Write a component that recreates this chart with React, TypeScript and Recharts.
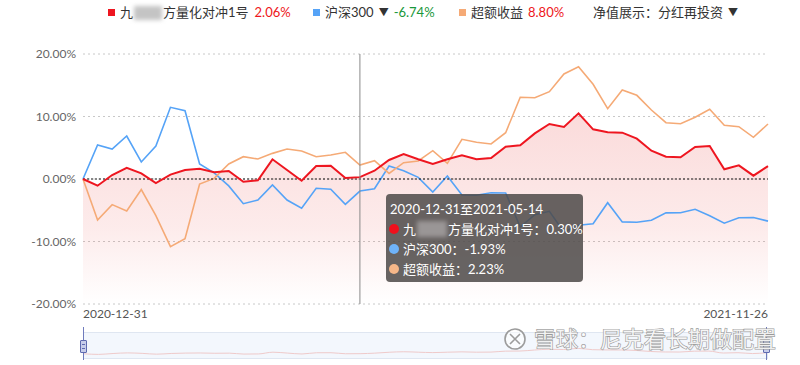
import React from 'react';
import {
  ComposedChart,
  LineChart,
  Line,
  Area,
  XAxis,
  YAxis,
  CartesianGrid,
  Tooltip,
  ReferenceLine,
} from 'recharts';

// ---------- data ----------
const dates = [
  '2020-12-31', '2021-01-08', '2021-01-15', '2021-01-22', '2021-01-29', '2021-02-05',
  '2021-02-10', '2021-02-19', '2021-02-26', '2021-03-05', '2021-03-12', '2021-03-19',
  '2021-03-26', '2021-04-02', '2021-04-09', '2021-04-16', '2021-04-23', '2021-04-30',
  '2021-05-07', '2021-05-14', '2021-05-21', '2021-05-28', '2021-06-04', '2021-06-11',
  '2021-06-18', '2021-06-25', '2021-07-02', '2021-07-09', '2021-07-16', '2021-07-23',
  '2021-07-30', '2021-08-06', '2021-08-13', '2021-08-20', '2021-08-27', '2021-09-03',
  '2021-09-10', '2021-09-17', '2021-09-24', '2021-09-30', '2021-10-08', '2021-10-15',
  '2021-10-22', '2021-10-29', '2021-11-05', '2021-11-12', '2021-11-19', '2021-11-26',
];

const fundReturns = [
  0, -1.07, 0.64, 1.8, 0.9, -0.64, 0.7, 1.44, 1.65, 1.07, 1.28, -0.45,
  -0.2, 3.15, 1.44, -0.27, 2.08, 2.13, 0.16, 0.3, 1.33, 3.04, 4.0, 3.15,
  2.4, 3.15, 3.79, 3.15, 3.36, 5.17, 5.39, 7.3, 8.8, 8.32, 10.5, 7.95,
  7.47, 7.41, 6.45, 4.53, 3.57, 3.47, 5.12, 5.28, 1.55, 2.19, 0.53, 2.06,
];

const hs300Returns = [
  0, 5.44, 4.8, 6.88, 2.72, 5.28, 11.47, 10.93, 2.4, 0.97, -1.1, -3.95,
  -3.36, -0.96, -3.36, -4.69, -1.49, -1.65, -4.05, -1.93, -1.55, 2.08, 1.33, 0.27,
  -2.08, 0.48, -2.56, -2.6, -2.2, -2.24, -7.68, -5.71, -5.17, -8.48, -7.4, -7.15,
  -3.79, -6.86, -6.93, -6.6, -5.42, -5.39, -4.85, -5.87, -7.06, -6.19, -6.16, -6.74,
];

const excessReturns = [
  0, -6.56, -4.1, -5.12, -1.7, -5.87, -10.83, -9.55, -0.8, 0.1, 2.4, 3.57,
  3.2, 4.1, 4.8, 4.48, 3.57, 3.84, 4.27, 2.23, 2.93, 0.9, 2.61, 2.88,
  4.53, 2.5, 6.35, 5.87, 5.6, 7.41, 13.07, 13.01, 13.97, 16.8, 17.97, 15.15,
  11.25, 14.24, 13.39, 11.04, 9.01, 8.85, 9.87, 11.15, 8.59, 8.37, 6.67, 8.8,
];

const yTicks = [-20, -10, 0, 10, 20];
const xTicks = [dates[0], dates[dates.length - 1]];

const FUND_HEAD = '九';
const FUND_TAIL = '方量化对冲1号';
const HS300_NAME = '沪深300';
const EXCESS_NAME = '超额收益';
const DISPLAY_MODE = '净值展示：分红再投资';
const WATERMARK = '雪球：尼克看长期做配置';

const data = dates.map((d, i) => ({
  date: d,
  fund: fundReturns[i],
  hs300: hs300Returns[i],
  excess: excessReturns[i],
}));

// ---------- styles ----------
const FONT = "Lato, 'Noto Sans CJK SC', sans-serif";
const RED = '#ee1620';
const BLUE = '#55a3f7';
const ORANGE = '#f5aa76';
const GREEN = '#19973a';

const fmt = (v: number) => `${v.toFixed(2)}%`;

const Blur = ({ w = 28, h = 14, color = '#b8b8b8' }: { w?: number; h?: number; color?: string }) => (
  <span
    style={{
      display: 'inline-block',
      width: w,
      height: h,
      background: color,
      filter: 'blur(2px)',
      verticalAlign: 'middle',
      margin: '0 1px',
    }}
  />
);

const Square = ({ color }: { color: string }) => (
  <span style={{ display: 'inline-block', width: 7, height: 7, background: color, marginRight: 5 }} />
);

const Arrow = () => (
  <span style={{ fontSize: 10, marginLeft: 5, marginRight: 5, color: '#333' }}>▼</span>
);

const LegendBar = () => {
  const last = dates.length - 1;
  const item: React.CSSProperties = {
    position: 'absolute',
    top: 4,
    display: 'flex',
    alignItems: 'center',
    whiteSpace: 'nowrap',
    lineHeight: '17px',
    height: 17,
  };
  return (
    <div style={{ position: 'absolute', left: 0, top: 0, width: 800, height: 28, font: `13px ${FONT}`, color: '#333' }}>
      <div style={{ ...item, left: 108 }}>
        <Square color={RED} />
        <span>{FUND_HEAD}</span>
        <Blur w={28} color="#c4c4c4" />
        <span>{FUND_TAIL}</span>
        <span style={{ color: RED, marginLeft: 6 }}>{fmt(fundReturns[last])}</span>
      </div>
      <div style={{ ...item, left: 313 }}>
        <Square color={BLUE} />
        <span>{HS300_NAME}</span>
        <Arrow />
        <span style={{ color: GREEN }}>{fmt(hs300Returns[last])}</span>
      </div>
      <div style={{ ...item, left: 459 }}>
        <Square color={ORANGE} />
        <span>{EXCESS_NAME}</span>
        <span style={{ color: RED, marginLeft: 5 }}>{fmt(excessReturns[last])}</span>
      </div>
      <div style={{ ...item, left: 593 }}>
        <span>{DISPLAY_MODE}</span>
        <Arrow />
      </div>
    </div>
  );
};

const XTick = (props: any) => {
  const { x, y, payload } = props;
  const anchor = payload.value === dates[0] ? 'start' : 'end';
  return (
    <text x={x} y={y} dy={14} textAnchor={anchor} fill="#555" fontSize={12} fontFamily={FONT}>
      {payload.value}
    </text>
  );
};

const Dot = ({ color }: { color: string }) => (
  <span
    style={{
      display: 'inline-block',
      width: 10,
      height: 10,
      borderRadius: '50%',
      background: color,
      marginRight: 4,
      verticalAlign: 'middle',
    }}
  />
);

const TooltipBox = (props: any) => {
  const { active, label, payload } = props;
  if (!active) return null;
  let i = dates.indexOf(label);
  if (i < 0 && payload && payload.length) i = dates.indexOf(payload[0].payload.date);
  if (i < 0) return null;
  const row: React.CSSProperties = { height: 20, lineHeight: '20px', display: 'flex', alignItems: 'center', whiteSpace: 'nowrap' };
  return (
    <div
      style={{
        width: 197,
        height: 88,
        boxSizing: 'border-box',
        background: 'rgba(78,74,73,0.86)',
        borderRadius: 4,
        color: '#fff',
        font: `13px ${FONT}`,
        padding: '5px 0 0 3px',
      }}
    >
      <div style={{ ...row, paddingLeft: 1 }}>{`${dates[0]}至${dates[i]}`}</div>
      <div style={row}>
        <Dot color="#f0101c" />
        <span>{FUND_HEAD}</span>
        <Blur w={30} h={16} color="#9a9696" />
        <span>{`${FUND_TAIL}：${fmt(fundReturns[i])}`}</span>
      </div>
      <div style={row}>
        <Dot color="#6fb3fa" />
        <span>{`${HS300_NAME}：${fmt(hs300Returns[i])}`}</span>
      </div>
      <div style={row}>
        <Dot color="#f6b789" />
        <span>{`${EXCESS_NAME}：${fmt(excessReturns[i])}`}</span>
      </div>
    </div>
  );
};

const Handle = ({ left }: { left: number }) => (
  <>
    <div style={{ position: 'absolute', left: left, top: 327, width: 1, height: 33, background: '#6f7bbd' }} />
    <div
      style={{
        position: 'absolute',
        left: left - 3,
        top: 340,
        width: 5,
        height: 11,
        border: '1px solid #5f6bb0',
        background: '#c7cdea',
        borderRadius: 1,
      }}
    >
      <div style={{ position: 'absolute', left: 1, top: 3, width: 3, height: 1, background: '#5f6bb0' }} />
      <div style={{ position: 'absolute', left: 1, top: 7, width: 3, height: 1, background: '#5f6bb0' }} />
    </div>
  </>
);

export default function App() {
  return (
    <div style={{ position: 'absolute', left: 0, top: 0, width: 800, height: 365, background: '#fff', overflow: 'hidden' }}>
      <LegendBar />
      <div style={{ position: 'absolute', left: 0, top: 0 }}>
        <ComposedChart width={800} height={365} data={data} margin={{ top: 54, right: 32, bottom: 41, left: 0 }}>
          <defs>
            <linearGradient id="fundFill" x1="0" y1="0" x2="0" y2="1">
              <stop offset="0%" stopColor="#ea4a48" stopOpacity={0.2} />
              <stop offset="60%" stopColor="#ea4a48" stopOpacity={0.11} />
              <stop offset="100%" stopColor="#ea4a48" stopOpacity={0.0} />
            </linearGradient>
          </defs>
          <CartesianGrid vertical={false} stroke="#c8c8c8" strokeDasharray="2 3" />
          <XAxis
            dataKey="date"
            type="category"
            scale="point"
            ticks={xTicks}
            interval={0}
            tick={<XTick />}
            tickLine={false}
            axisLine={false}
            tickSize={0}
            tickMargin={0}
            height={20}
          />
          <YAxis
            type="number"
            domain={[-20, 20]}
            ticks={yTicks}
            tickFormatter={(v: number) => fmt(v)}
            axisLine={false}
            tickLine={false}
            tickSize={0}
            tickMargin={7}
            width={83}
            tick={{ fill: '#666', fontSize: 12, fontFamily: FONT }}
          />
          <Tooltip
            defaultIndex={19}
            content={<TooltipBox />}
            cursor={{ stroke: '#8a8a8a', strokeWidth: 1 }}
            position={{ x: 386, y: 194 }}
            isAnimationActive={false}
          />
          <Line
            type="linear"
            dataKey="hs300"
            stroke={BLUE}
            strokeWidth={1.6}
            dot={false}
            activeDot={false}
            isAnimationActive={false}
          />
          <Line
            type="linear"
            dataKey="excess"
            stroke={ORANGE}
            strokeWidth={1.6}
            dot={false}
            activeDot={false}
            isAnimationActive={false}
          />
          <Area
            type="linear"
            dataKey="fund"
            baseValue={-20}
            stroke="none"
            fill="url(#fundFill)"
            fillOpacity={1}
            activeDot={false}
            isAnimationActive={false}
          />
          <ReferenceLine y={0} stroke="#111" strokeDasharray="2 2" strokeWidth={1} />
          <Line
            type="linear"
            dataKey="fund"
            stroke={RED}
            strokeWidth={2}
            dot={false}
            activeDot={false}
            isAnimationActive={false}
          />
        </ComposedChart>
      </div>
      {/* data zoom strip */}
      <div
        style={{
          position: 'absolute',
          left: 83,
          top: 332,
          width: 685,
          height: 27,
          boxSizing: 'border-box',
          background: '#f3f7fd',
          border: '1px solid #dfe6f1',
        }}
      >
        <LineChart width={683} height={25} data={data} margin={{ top: 0, right: 0, bottom: 0, left: 0 }}>
          <XAxis dataKey="date" hide scale="point" />
          <YAxis hide domain={[-8, 40]} />
          <Line
            type="monotone"
            dataKey="fund"
            stroke="#efcaca"
            strokeWidth={1}
            dot={false}
            activeDot={false}
            isAnimationActive={false}
          />
        </LineChart>
      </div>
      <Handle left={83} />
      <Handle left={766} />
      {/* watermark */}
      <svg width={800} height={365} style={{ position: 'absolute', left: 0, top: 0, pointerEvents: 'none' }}>
        <circle cx={515} cy={339} r={10} fill="rgba(255,255,255,0.6)" stroke="#9c9c9c" strokeWidth={1.6} />
        <path d="M510 334 L520 344 M520 334 L510 344" stroke="#9c9c9c" strokeWidth={1.6} fill="none" />
        <text
          x={534}
          y={347}
          fontSize={22}
          fontFamily="'Noto Sans CJK SC', sans-serif"
          fill="rgba(255,255,255,0.85)"
          stroke="#9a9a9a"
          strokeWidth={1.2}
          style={{ paintOrder: 'stroke' } as any}
        >
          {WATERMARK}
        </text>
      </svg>
    </div>
  );
}
